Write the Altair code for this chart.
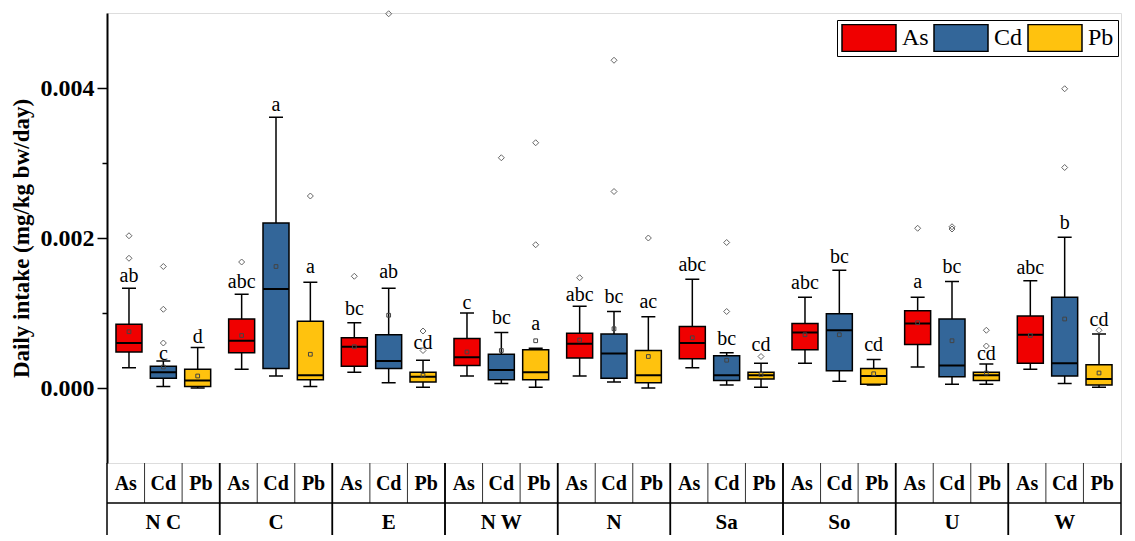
import altair as alt
import pandas as pd

SERIF = "Liberation Serif"

regions = ["N C", "C", "E", "N W", "N", "Sa", "So", "U", "W"]
metals = ["As", "Cd", "Pb"]
colors = ["#F00000", "#336699", "#FFC20E"]

# box statistics (x 1e-3 mg/kg bw/day), order: region-major, metal-minor
whisker_low = [0.27, 0.02, 0.00, 0.25, 0.16, 0.02, 0.21, 0.07, 0.01,
               0.16, 0.06, 0.01, 0.16, 0.08, 0.00, 0.27, 0.04, 0.01,
               0.33, 0.09, 0.04, 0.28, 0.05, 0.05, 0.25, 0.06, 0.01]
q1 = [0.48, 0.13, 0.02, 0.47, 0.26, 0.11, 0.29, 0.26, 0.08,
      0.30, 0.11, 0.11, 0.40, 0.13, 0.07, 0.39, 0.10, 0.12,
      0.51, 0.23, 0.05, 0.58, 0.15, 0.10, 0.33, 0.16, 0.04]
median = [0.60, 0.21, 0.10, 0.63, 1.32, 0.17, 0.55, 0.36, 0.15,
          0.41, 0.24, 0.21, 0.59, 0.46, 0.17, 0.60, 0.17, 0.17,
          0.74, 0.77, 0.16, 0.86, 0.30, 0.17, 0.71, 0.33, 0.12]
q3 = [0.85, 0.29, 0.25, 0.92, 2.20, 0.89, 0.67, 0.71, 0.21,
      0.66, 0.45, 0.51, 0.73, 0.72, 0.50, 0.82, 0.43, 0.21,
      0.86, 0.99, 0.26, 1.03, 0.92, 0.21, 0.96, 1.21, 0.31]
whisker_high = [1.33, 0.36, 0.54, 1.25, 3.61, 1.41, 0.87, 1.33, 0.37,
                1.00, 0.74, 0.53, 1.09, 1.02, 0.95, 1.45, 0.47, 0.33,
                1.21, 1.57, 0.38, 1.21, 1.42, 0.32, 1.43, 2.01, 0.72]
mean = [0.75, 0.28, 0.16, 0.70, 1.62, 0.45, 0.55, 0.97, 0.17,
        0.48, 0.50, 0.63, 0.64, 0.79, 0.42, 0.67, 0.37, 0.18,
        0.71, 0.71, 0.19, 0.87, 0.63, 0.20, 0.70, 0.92, 0.20]
letters = ["ab", "c", "d", "abc", "a", "a", "bc", "ab", "cd",
           "c", "bc", "a", "abc", "bc", "ac", "abc", "bc", "cd",
           "abc", "bc", "cd", "a", "bc", "cd", "abc", "b", "cd"]
letter_y = [1.49, 0.46, 0.68, 1.42, 3.77, 1.62, 1.06, 1.55, 0.60,
            1.13, 0.93, 0.86, 1.24, 1.21, 1.15, 1.64, 0.65, 0.57,
            1.40, 1.75, 0.57, 1.41, 1.62, 0.46, 1.60, 2.20, 0.91]

# outliers
out_region = ["N C", "N C", "N C", "N C", "N C", "C", "C", "E", "E", "E", "E",
              "N W", "N W", "N W", "N", "N", "N", "N", "Sa", "Sa", "Sa",
              "U", "U", "U", "U", "U", "W", "W", "W"]
out_metal = ["As", "As", "Cd", "Cd", "Cd", "As", "Pb", "As", "Cd", "Pb", "Pb",
             "Cd", "Pb", "Pb", "As", "Cd", "Cd", "Pb", "Cd", "Cd", "Pb",
             "As", "Cd", "Cd", "Pb", "Pb", "Cd", "Cd", "Pb"]
out_value = [2.03, 1.73, 1.62, 1.05, 0.60, 1.68, 2.56, 1.49, 4.99, 0.76, 0.50,
             3.07, 3.27, 1.91, 1.47, 4.37, 2.62, 2.00, 1.94, 1.02, 0.42,
             2.13, 2.15, 2.12, 0.77, 0.56, 3.99, 2.94, 0.77]

S = 0.001
rows = []
i = 0
for r in regions:
    for m in metals:
        rows.append(dict(region=r, metal=m, lo=whisker_low[i] * S, q1=q1[i] * S,
                         med=median[i] * S, q3=q3[i] * S, hi=whisker_high[i] * S,
                         mean=mean[i] * S, letter=letters[i], ly=letter_y[i] * S))
        i += 1
df_box = pd.DataFrame(rows)
df_out = pd.DataFrame(dict(region=out_region, metal=out_metal,
                           v=[v * S for v in out_value]))
df_reg = pd.DataFrame(dict(region=regions))

W = 1014
H = 450
TITLE = "Daily intake (mg/kg bw/day)"

xscale = alt.Scale(domain=regions, paddingInner=0, paddingOuter=0)
xoscale = alt.Scale(domain=metals, paddingInner=0, paddingOuter=0.14)
yscale = alt.Scale(domain=[-0.001, 0.005], nice=False, zero=False)
yaxis = alt.Axis(
    values=[0, 0.001, 0.002, 0.003, 0.004],
    labelExpr="round(datum.value*1000) % 2 == 0 ? format(datum.value, '.3f') : ''",
    tickSize={"condition": {"test": "round(datum.value*1000) % 2 == 0", "value": 10}, "value": 5},
    tickWidth=1.5, tickColor="black", domainColor="black", domainWidth=2,
    labelFont=SERIF, labelFontWeight="bold", labelFontSize=24, labelColor="black",
    labelPadding=3, grid=False,
    titleFont=SERIF, titleFontWeight="bold", titleFontSize=23, titleColor="black",
    titlePadding=7,
)


def X(band=None):
    if band is None:
        return alt.X("region:N", scale=xscale, axis=None)
    return alt.X("region:N", scale=xscale, axis=None, bandPosition=band)


def XO():
    return alt.XOffset("metal:N", scale=xoscale)


def Y(field):
    return alt.Y(field, scale=yscale, axis=yaxis, title=TITLE)


base = alt.Chart(df_box).encode(x=X(), xOffset=XO())

whisk = base.mark_rule(color="black", strokeWidth=1.5).encode(y=Y("lo:Q"), y2="hi:Q")
box = base.mark_bar(width=26, stroke="black", strokeWidth=1.5, opacity=1).encode(
    y=Y("q1:Q"), y2="q3:Q",
    color=alt.Color("metal:N", scale=alt.Scale(domain=metals, range=colors),
                    legend=alt.Legend(
                        title=None, orient="none", legendX=730, legendY=7,
                        direction="horizontal",
                        symbolType="M-1,-0.5H1V0.5H-1Z", symbolSize=2916,
                        symbolStrokeColor="black", symbolStrokeWidth=1.5,
                        symbolOpacity=1, clipHeight=28,
                        labelFont=SERIF, labelFontSize=24, labelColor="black",
                        labelOffset=5, columnPadding=4, padding=4,
                        strokeColor="black", fillColor="white")))
cap_lo = base.mark_tick(size=14, thickness=1.5, color="black", opacity=1).encode(y=Y("lo:Q"))
cap_hi = base.mark_tick(size=14, thickness=1.5, color="black", opacity=1).encode(y=Y("hi:Q"))
med = base.mark_tick(size=26, thickness=2, color="black", opacity=1).encode(y=Y("med:Q"))
mean_pt = base.mark_point(shape="square", size=14, filled=False, color="#444",
                          strokeWidth=1, opacity=1).encode(y=Y("mean:Q"))
outl = alt.Chart(df_out).mark_point(shape="diamond", size=36, filled=False,
                                    color="#666", strokeWidth=1, opacity=1).encode(
    x=X(), xOffset=XO(), y=Y("v:Q"))
lett = base.mark_text(font=SERIF, fontSize=20, color="black").encode(
    y=Y("ly:Q"), text="letter:N")

# table below the plot
gline = alt.Chart(df_reg).mark_rule(color="black", strokeWidth=1.5).encode(
    x=X(0), y=alt.value(H), y2=alt.value(H + 72))
gline_end = alt.Chart(df_reg).mark_rule(color="black", strokeWidth=1.5).encode(
    x=X(1), y=alt.value(H), y2=alt.value(H + 72))
sub1 = alt.Chart(df_reg).mark_rule(color="#333", strokeWidth=1).encode(
    x=X(1 / 3), y=alt.value(H), y2=alt.value(H + 40))
sub2 = alt.Chart(df_reg).mark_rule(color="#333", strokeWidth=1).encode(
    x=X(2 / 3), y=alt.value(H), y2=alt.value(H + 40))
hline = alt.Chart(pd.DataFrame(dict(a=[0]))).mark_rule(color="black", strokeWidth=1.5).encode(
    x=alt.value(0), x2=alt.value(W), y=alt.value(H + 40))

cells = pd.DataFrame([dict(region=r, metal=m) for r in regions for m in metals])
metal_txt = []
for k, m in enumerate(metals):
    metal_txt.append(
        alt.Chart(cells).transform_filter(alt.datum.metal == m).mark_text(
            font=SERIF, fontSize=20, fontWeight="bold", color="black", baseline="middle"
        ).encode(x=X((k + 0.5) / 3), y=alt.value(H + 21), text="metal:N"))
reg_txt = alt.Chart(df_reg).mark_text(
    font=SERIF, fontSize=21, fontWeight="bold", color="black", baseline="middle"
).encode(x=X(0.5), y=alt.value(H + 60), text="region:N")

chart = alt.layer(
    whisk, box, cap_lo, cap_hi, med, mean_pt, outl, lett,
    gline, gline_end, sub1, sub2, hline, *metal_txt, reg_txt
).properties(
    width=W, height=H,
    padding={"left": 2, "top": 0, "right": 2, "bottom": 0},
).configure_view(stroke="black", strokeWidth=1.5).configure(background="white")

chart.save("out.html", embed_options={"renderer": "svg", "actions": False})
